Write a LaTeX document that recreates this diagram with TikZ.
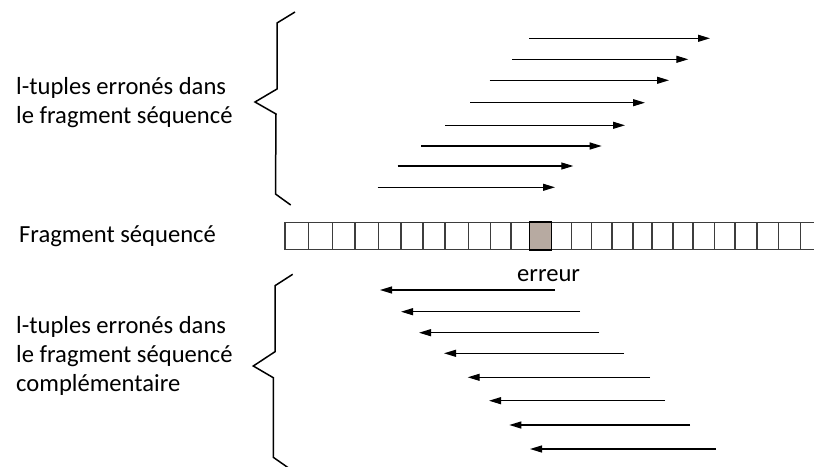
\documentclass[tikz,border=0pt]{standalone}
\usepackage{fontspec}
\setmainfont{Carlito}
\usetikzlibrary{arrows.meta}

\definecolor{cellline}{rgb}{0.24,0.24,0.24}
\definecolor{errfill}{RGB}{183,170,161}

\tikzset{
  label/.style={inner sep=0pt, anchor=base west, align=left,
    font=\fontsize{24.6}{29.2}\selectfont},
  readarrow/.style={line width=1.2pt, -{Triangle[length=12pt,width=7pt]}},
  bracket/.style={line width=1.5pt, line join=miter},
  cell/.style={draw=cellline, line width=1.3pt},
  errcell/.style={draw=black, line width=1.8pt, fill=errfill,
    minimum width=22pt, minimum height=27.4pt, inner sep=0pt},
}

\begin{document}
\begin{tikzpicture}[x=1pt, y=-1pt]
\useasboundingbox (0,0) rectangle (814,466);
\clip (0,0) rectangle (814,466);

% labels (a multi-line label sits on the baseline of its last line)
\node[label] (topLabel) at (16,123.3) {l-tuples erronés dans\\le fragment séquencé};
\node[label] (fragLabel) at (19,242.3) {Fragment séquencé};
\node[label] (botLabel) at (16,391.7) {l-tuples erronés dans\\le fragment séquencé\\complémentaire};
\node[label] (errLabel) at (517,281.7) {erreur};

% the sequenced fragment: a strip of cells running off the right side
\draw[cell] (285,222.3) -- (830,222.3) (285,249.7) -- (830,249.7);
\foreach \x in {285,308.5,332.5,355,378.3,401,423,445,468.7,490.3,511,
                571.6,591.5,612,633,652,673,693,714.3,735,757,778.5,800.5}
  \draw[cell] (\x,222.3) -- (\x,249.7);
\node[errcell] (errCell) at (540.5,236) {};

% brackets
\draw[bracket] (295,12) -- (277,23) -- (277,89) -- (255,102) -- (276,114)
  -- (275.5,194) -- (290.7,205);
\draw[bracket] (292.7,274.3) -- (275,285.7) -- (275,351.7) -- (253.3,366)
  -- (273.3,377.7) -- (273.3,457.3) -- (289,468.3);

% forward reads (above the fragment)
\foreach \i/\xa/\xb/\y in {1/529.3/710/38.3, 2/512.3/688.3/59.3,
    3/489.7/669/80.3, 4/470/645/102.7, 5/445/625/125.3,
    6/421.3/601.7/146, 7/397.7/573.3/166, 8/377.7/555/187.3} {
  \coordinate (fs\i) at (\xa,\y);
  \coordinate (fe\i) at (\xb,\y);
  \draw[readarrow] (fs\i) -- (fe\i);
}

% reverse reads (complementary strand)
\foreach \i/\xa/\xb/\y in {1/555/380/290, 2/580/401/311.7,
    3/599.3/419/332.7, 4/624/444/353.3, 5/650/467.7/377.3,
    6/665/489/400.7, 7/690/509.3/425, 8/716/530/449} {
  \coordinate (rs\i) at (\xa,\y);
  \coordinate (re\i) at (\xb,\y);
  \draw[readarrow] (rs\i) -- (re\i);
}
\end{tikzpicture}
\end{document}
